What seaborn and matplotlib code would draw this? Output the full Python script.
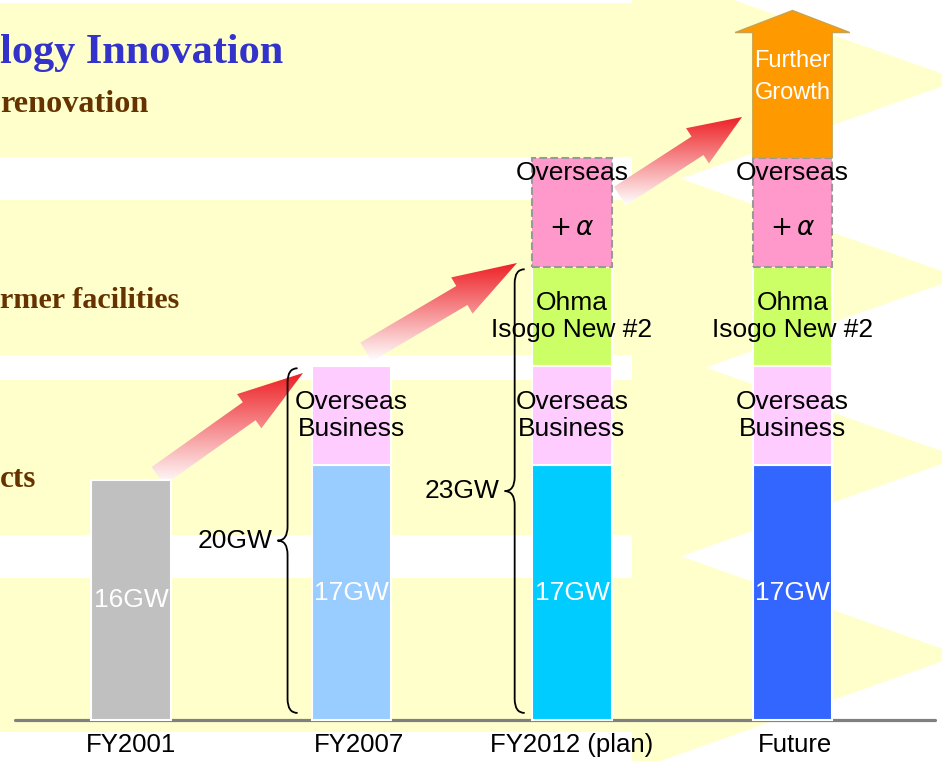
import numpy as np
import pandas as pd
import matplotlib.pyplot as plt
from matplotlib.path import Path
from matplotlib.patches import PathPatch, Polygon, Rectangle, FancyArrow
import seaborn as sns

# --- data (segment heights as drawn, GW scale of the picture) ---
years = ["FY2001", "FY2007", "FY2012 (plan)", "Future"]
base_gw = [16, 17, 17, 17]
overseas_biz = [0, 6.6, 6.6, 6.6]
ohma_isogo = [0, 0, 6.6, 6.6]
overseas_alpha = [0, 0, 7.3, 7.3]
further_growth = [0, 0, 0, 9.8]
base_labels = ["16GW", "17GW", "17GW", "17GW"]
base_colors = ["#C0C0C0", "#99CCFF", "#00CCFF", "#3366FF"]
brace_years = ["FY2007", "FY2012 (plan)"]
brace_labels = ["20GW", "23GW"]

sns.set_style("white")
plt.rcParams["font.family"] = ["Liberation Sans", "DejaVu Sans"]
plt.rcParams["text.color"] = "black"

W, H = 942, 761
fig = plt.figure(figsize=(W / 100, H / 100), dpi=100)
fig.patch.set_facecolor("white")

# background layer in pixel coordinates
bg = fig.add_axes([0, 0, 1, 1], zorder=0)
bg.set_xlim(0, W)
bg.set_ylim(H, 0)
bg.axis("off")

yellow = "#FFFFCC"
bands = [(3, 157), (200, 355), (380, 535), (578, 732)]
for top, bot in bands:
    bg.add_patch(Rectangle((-5, top), 637, bot - top, color=yellow, lw=0))
    c = (top + bot) / 2
    bg.add_patch(Polygon([(632, c - 116), (960, c), (632, c + 116)], closed=True, color=yellow, lw=0))

serif = ["Liberation Serif", "DejaVu Serif"]
bg.text(0, 63, "logy Innovation", family=serif, weight="bold", size=30.5, color="#3333CC", va="baseline")
bg.text(0, 112, "renovation", family=serif, weight="bold", size=23.2, color="#663300", va="baseline")
bg.text(0, 308, "rmer facilities", family=serif, weight="bold", size=21.7, color="#663300", va="baseline")
bg.text(0, 487, "cts", family=serif, weight="bold", size=22.5, color="#663300", va="baseline")


def red_arrow(tail, tip, shaft=11, head=21, head_len=62):
    tail, tip = np.array(tail, float), np.array(tip, float)
    u = (tip - tail) / np.linalg.norm(tip - tail)
    n = np.array([-u[1], u[0]])
    b = tip - u * head_len
    pts = [tail + n * shaft, b + n * shaft, b + n * head, tip,
           b - n * head, b - n * shaft, tail - n * shaft]
    poly = Polygon(pts, closed=True, facecolor="none", edgecolor="none")
    bg.add_patch(poly)
    xs, ys = zip(*pts)
    t = np.linspace(0, 1, 200)[:, None]
    red = np.array([0.93, 0.12, 0.14])
    rgb = red * (1 - t) + np.ones(3) * t
    img = np.concatenate([rgb, np.ones_like(t)], axis=1)[:, None, :]
    im = bg.imshow(img, extent=(min(xs), max(xs), max(ys), min(ys)), aspect="auto",
                   interpolation="bilinear", zorder=2)
    im.set_clip_path(poly)


red_arrow((158, 476), (303, 373), head_len=66)
red_arrow((366, 352), (517, 263), head_len=64)
red_arrow((620, 196), (742, 117), head_len=53)
bg.set_xlim(0, W)
bg.set_ylim(H, 0)

# --- bar layer ---
ax = fig.add_axes([0, 0, 1, 1], zorder=1)
ax.patch.set_alpha(0)

df = pd.DataFrame({"year": years, "base": base_gw, "overseas": overseas_biz,
                   "ohma": ohma_isogo, "alpha": overseas_alpha, "growth": further_growth})
df["b_over"] = df["base"]
df["b_ohma"] = df["b_over"] + df["overseas"]
df["b_alpha"] = df["b_ohma"] + df["ohma"]
df["b_growth"] = df["b_alpha"] + df["alpha"]

bw = 0.36
ax.axhline(0, xmin=15 / W, xmax=935 / W, color="#7F7F7F", lw=2.3, zorder=0.5)

sns.barplot(data=df, x="year", y="base", hue="year", palette=base_colors, order=years,
            hue_order=years, width=bw, saturation=1, edgecolor="white", linewidth=1.5,
            errorbar=None, legend=False, ax=ax)

layers = [("overseas", "b_over", "#FFCCFF", "white", "-"),
          ("ohma", "b_ohma", "#CCFF66", "white", "-"),
          ("alpha", "b_alpha", "#FF99CC", "#999999", "--")]
for col, bcol, fc, ec, ls in layers:
    sub = df[df[col] > 0]
    sns.barplot(data=sub, x="year", y=col, order=years, bottom=sub[bcol].values, color=fc,
                width=bw, saturation=1, edgecolor=ec, linewidth=1.5, linestyle=ls,
                errorbar=None, ax=ax)

# further growth arrow on top of the future stack
for i, row in df.iterrows():
    if row["growth"] > 0:
        ax.add_patch(FancyArrow(i, row["b_growth"], 0, row["growth"], width=bw, head_width=0.52,
                                head_length=1.47, length_includes_head=True,
                                facecolor="#FF9900", edgecolor="#C9A24B", lw=1, zorder=3))
        ax.text(i, row["b_growth"] + row["growth"] * 0.55, "Further\nGrowth", color="white",
                size=17, ha="center", va="center", linespacing=1.6, zorder=4)

fs = 19
lab_dx = [0, 0.035, 0, 0.01]
for i, row in df.iterrows():
    ax.text(i, row["base"] / 2, base_labels[i], color="white", size=fs, ha="center", va="center", zorder=4)
    if row["overseas"] > 0:
        ax.text(i, row["b_over"] + row["overseas"] / 2, "Overseas\nBusiness", size=fs,
                ha="center", va="center", zorder=4)
    if row["ohma"] > 0:
        ax.text(i, row["b_ohma"] + row["ohma"] / 2, "Ohma\nIsogo New #2", size=fs,
                ha="center", va="center", zorder=4)
    if row["alpha"] > 0:
        ax.text(i, row["b_growth"] - 1.0, "Overseas", size=fs, ha="center", va="center", zorder=4)
        ax.text(i, row["b_alpha"] + row["alpha"] / 2 - 1.05, r"$+\,\alpha$", size=fs,
                ha="center", va="center", zorder=4)
    ax.text(i + lab_dx[i], -1.67, years[i], size=18.5, ha="center", va="center")

# curly braces for the totals
sx, sy = 1 / 220.5, 1 / 15
for yr, lab, gap in zip(brace_years, brace_labels, [0.11, 0.08]):
    i = years.index(yr)
    row = df.iloc[i]
    top = row["b_alpha"]
    x = i - bw / 2 - gap
    y0, y1 = 0.47, top - 0.15
    ym = (y0 + y1) / 2
    hook, tipw, r = 10 * sx, 10 * sx, 14 * sy
    verts = [(x + hook, y1), (x, y1), (x, y1 - r), (x, ym + r), (x, ym), (x - tipw, ym),
             (x, ym), (x, ym - r), (x, y0 + r), (x, y0), (x + hook, y0)]
    codes = [Path.MOVETO, Path.CURVE3, Path.CURVE3, Path.LINETO, Path.CURVE3, Path.CURVE3,
             Path.CURVE3, Path.CURVE3, Path.LINETO, Path.CURVE3, Path.CURVE3]
    ax.add_patch(PathPatch(Path(verts, codes), facecolor="none", edgecolor="black", lw=1.3))
    ax.text(x - tipw - 5 * sx, ym, lab, size=fs, ha="right", va="center")

ax.set_xlim(-131 / 220.5, (W - 131) / 220.5)
ax.set_ylim(-41 / 15, (H - 41) / 15)
ax.axis("off")

fig.savefig("out.png", dpi=100)
